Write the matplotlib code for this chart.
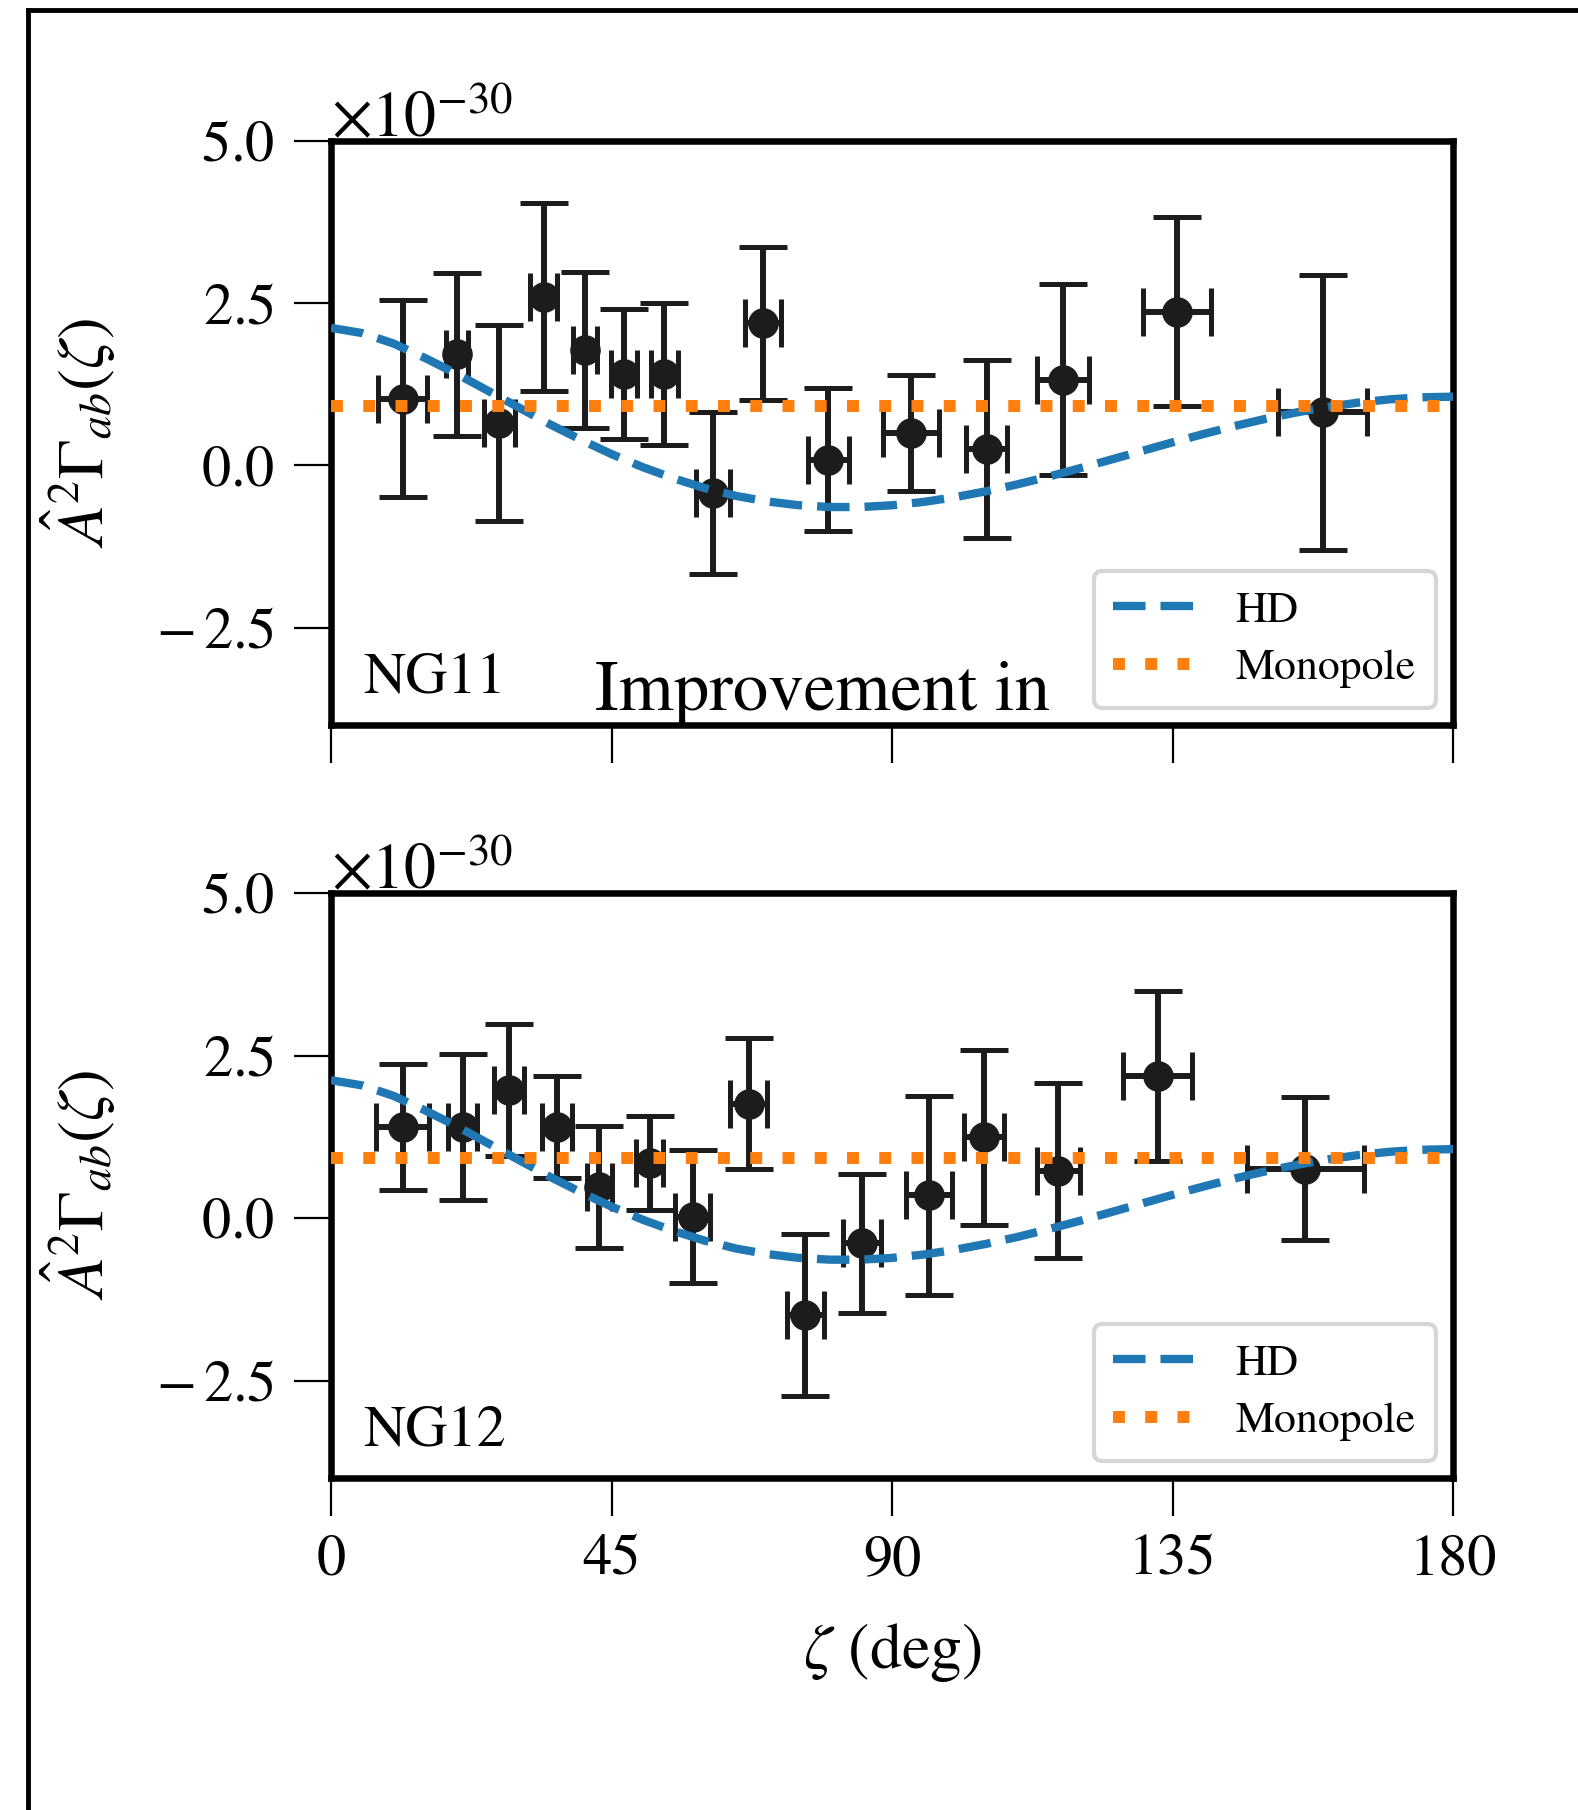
import matplotlib
matplotlib.use("Agg")
import matplotlib.pyplot as plt
from matplotlib.ticker import ScalarFormatter
from matplotlib.lines import Line2D
import numpy as np

plt.rcParams['font.family'] = ['STIXGeneral', 'Liberation Serif', 'DejaVu Serif']
plt.rcParams['mathtext.fontset'] = 'stix'
plt.rcParams['axes.unicode_minus'] = True

# ---------------- data (values in units of 1e-30) ----------------
ng11_x = [11.5, 20.2, 27.0, 34.1, 40.7, 47.0, 53.5, 61.3, 69.3, 79.8, 93.0, 105.2, 117.4, 135.7, 159.1]
ng11_y = [1.03, 1.71, 0.66, 2.60, 1.78, 1.41, 1.41, -0.43, 2.19, 0.09, 0.50, 0.25, 1.32, 2.37, 0.82]
ng11_yerr = [1.52, 1.26, 1.51, 1.45, 1.20, 1.00, 1.10, 1.25, 1.18, 1.10, 0.90, 1.37, 1.47, 1.46, 2.12]
ng11_xerr = [3.9, 1.8, 2.5, 2.1, 1.9, 2.1, 2.1, 2.7, 2.9, 3.3, 4.5, 3.3, 4.2, 5.5, 7.1]

ng12_x = [11.5, 21.1, 28.5, 36.3, 43.0, 51.1, 58.0, 67.0, 76.1, 85.2, 95.9, 104.8, 116.7, 132.6, 156.3]
ng12_y = [1.40, 1.40, 1.97, 1.40, 0.48, 0.85, 0.02, 1.76, -1.49, -0.39, 0.35, 1.24, 0.73, 2.18, 0.76]
ng12_yerr = [0.97, 1.13, 1.02, 0.78, 0.94, 0.72, 1.02, 1.01, 1.25, 1.07, 1.53, 1.34, 1.35, 1.31, 1.10]
ng12_xerr = [4.3, 2.4, 2.4, 2.4, 2.0, 2.2, 2.8, 3.0, 3.0, 3.1, 3.7, 3.2, 3.4, 5.5, 9.4]

hd_zeta = [0, 5, 10, 15, 20, 25, 30, 35, 40, 45, 50, 55, 60, 65, 70, 75, 80, 85, 90,
           95, 100, 105, 110, 115, 120, 125, 130, 135, 140, 145, 150, 155, 160, 165, 170, 175, 180]
hd_vals = [2.12, 2.04, 1.88, 1.66, 1.42, 1.16, 0.90, 0.64, 0.40, 0.175, -0.026, -0.20, -0.35,
           -0.47, -0.555, -0.613, -0.641, -0.641, -0.614, -0.563, -0.491, -0.40, -0.294, -0.175,
           -0.047, 0.086, 0.221, 0.356, 0.485, 0.608, 0.72, 0.819, 0.903, 0.971, 1.02, 1.05, 1.06]
monopole_val = 0.92

panel_labels = ['NG11', 'NG12']
xticks = [0, 45, 90, 135, 180]
yticks = [-2.5, 0.0, 2.5, 5.0]
SCALE = 1e-30


class SpacedMinusFormatter(ScalarFormatter):
    """ScalarFormatter whose minus sign is followed by a thin space."""
    def __call__(self, x, pos=None):
        s = super().__call__(x, pos)
        return s.replace('\u2212', '\u2212\\,')


# ---------------- figure ----------------
W, H = 1578, 1810
fig = plt.figure(figsize=(W / 100, H / 100), dpi=100)
ax1 = fig.add_axes([331 / W, 1 - 725 / H, 1122 / W, 584 / H])
ax2 = fig.add_axes([331 / W, 1 - 1478 / H, 1122 / W, 585 / H])

ebar_color = '#1c1c1c'
datasets = [(ng11_x, ng11_y, ng11_xerr, ng11_yerr), (ng12_x, ng12_y, ng12_xerr, ng12_yerr)]

for ax, (dx, dy, dxe, dye), lab in zip([ax1, ax2], datasets, panel_labels):
    ax.errorbar(dx, np.array(dy) * SCALE, xerr=dxe, yerr=np.array(dye) * SCALE,
                fmt='o', color=ebar_color, ms=21, elinewidth=4.3, capsize=17,
                capthick=3.6, zorder=2)
    ax.plot(hd_zeta, np.array(hd_vals) * SCALE, color='#1f77b4', lw=6,
            ls=(0, (3.9, 1.8)), label='HD', zorder=3)
    ax.plot([0, 180], [monopole_val * SCALE] * 2, color='#ff7f0e', lw=8.6,
            ls=(0, (1.0, 1.7)), label='Monopole', zorder=3)
    ax.set_xlim(0, 180)
    ax.set_ylim(-4 * SCALE, 5 * SCALE)
    ax.set_xticks(xticks)
    ax.set_yticks(np.array(yticks) * SCALE)
    fmt = SpacedMinusFormatter(useMathText=True)
    ax.yaxis.set_major_formatter(fmt)
    ax.yaxis.get_offset_text().set_fontsize(46)
    for s in ax.spines.values():
        s.set_linewidth(4.7)
    ax.tick_params(direction='out', length=27, width=1.6, pad=14, labelsize=42)
    ax.set_ylabel(r'$\hat{A}^2\Gamma_{ab}(\zeta)$', fontsize=47, labelpad=27)
    ax.text(0.029, 0.055, lab, transform=ax.transAxes, fontsize=42,
            ha='left', va='baseline')
    leg = ax.legend(loc='lower right', fontsize=31.5, handlelength=1.9,
                    handletextpad=0.9, labelspacing=0.4, borderaxespad=0.4,
                    borderpad=0.45, edgecolor='0.8', framealpha=0.8, fancybox=True)
    leg.get_frame().set_linewidth(3)

ax1.tick_params(labelbottom=False)
ax2.set_xlabel(r'$\zeta$ (deg)', fontsize=46, labelpad=24)

fig.text(595 / W, 1 - 710 / H, 'Improvement in', fontsize=51, ha='left', va='baseline')

# slide frame (left and top edges)
fig.add_artist(Line2D([28 / W, 28 / W], [0, 1 - 10 / H], transform=fig.transFigure,
                      color='k', lw=3.5, solid_capstyle='projecting'))
fig.add_artist(Line2D([28 / W, 1], [1 - 10 / H, 1 - 10 / H], transform=fig.transFigure,
                      color='k', lw=3.5, solid_capstyle='projecting'))

fig.savefig('out.png', dpi=100)
